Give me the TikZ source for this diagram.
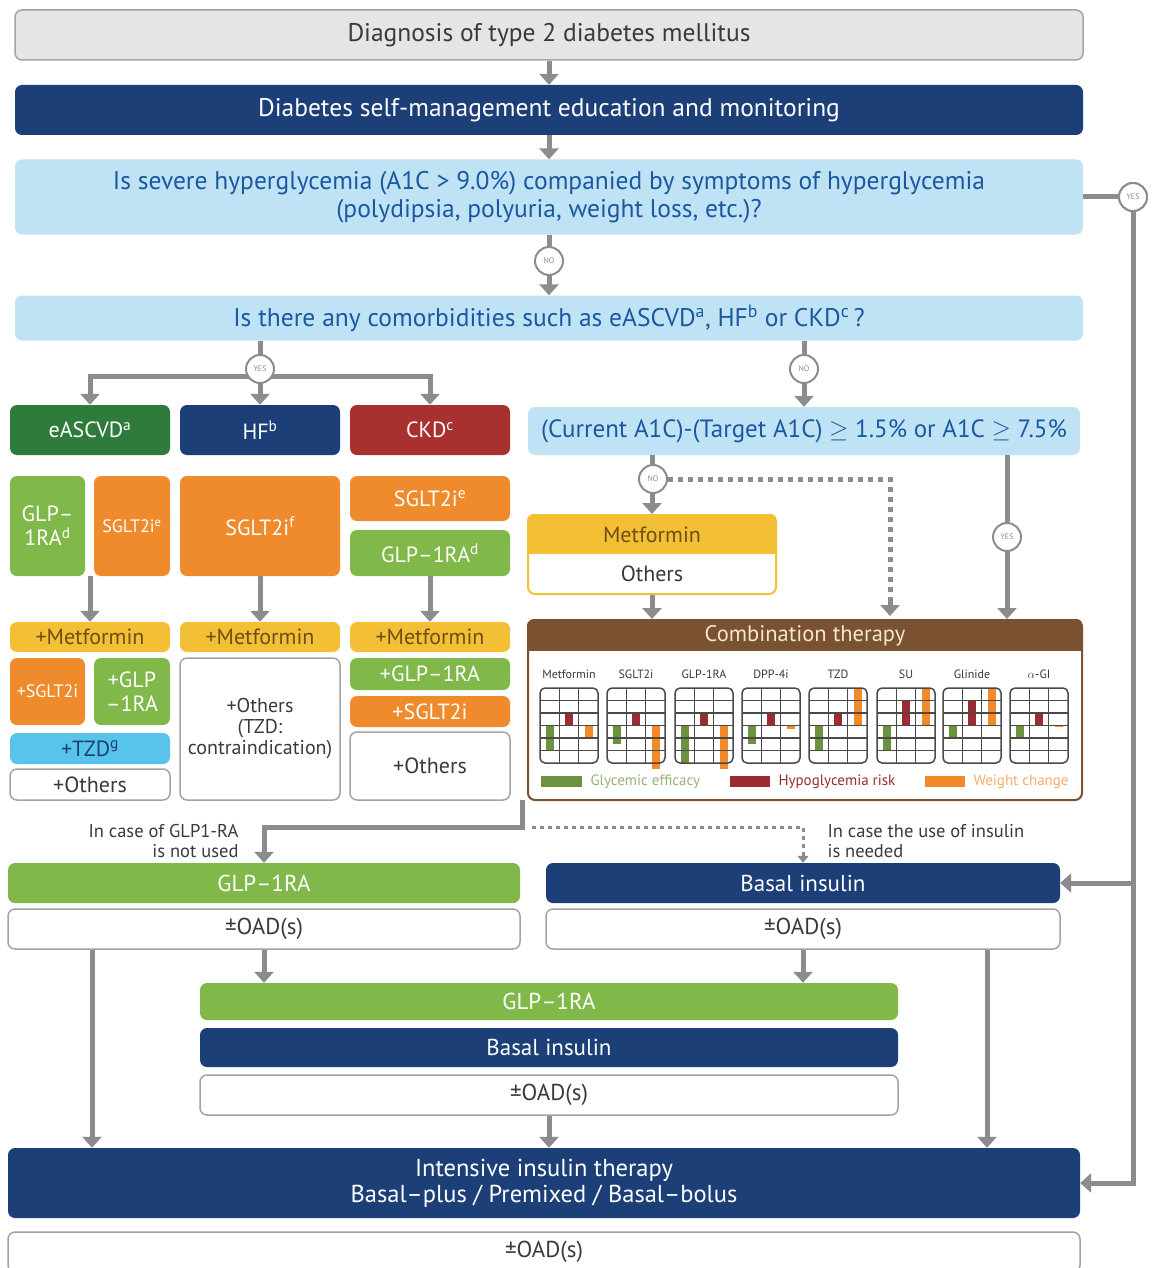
\documentclass[tikz,border=0pt]{standalone}
\usepackage{fontspec}
\setmainfont{PT Sans}
\usetikzlibrary{arrows.meta, positioning}
\definecolor{navy}{HTML}{1C3F77}
\definecolor{skyq}{HTML}{BFE3F5}
\definecolor{qtext}{HTML}{1B58A0}
\definecolor{lgray}{HTML}{E5E5E5}
\definecolor{mgray}{HTML}{A3A3A3}
\definecolor{arrgray}{HTML}{8C8C8C}
\definecolor{dgreen}{HTML}{2E7B3C}
\definecolor{dred}{HTML}{A8312F}
\definecolor{lgreen}{HTML}{80B84A}
\definecolor{orng}{HTML}{EF8B2C}
\definecolor{yel}{HTML}{F3C035}
\definecolor{yeltext}{HTML}{6E4E18}
\definecolor{tzdblue}{HTML}{58C4EA}
\definecolor{cbrown}{HTML}{7A5232}
\definecolor{ccream}{HTML}{F7E6CC}
\definecolor{bgreen}{HTML}{6C9240}
\definecolor{bred}{HTML}{9A2B30}
\definecolor{borng}{HTML}{F28A2A}
\definecolor{gridc}{HTML}{4A4A4A}
\definecolor{txtgray}{HTML}{3A3A3A}

\begin{document}
\begin{tikzpicture}[x=1pt, y=-1pt,
    box/.style={rounded corners=7pt, inner sep=0pt, align=center},
    wide/.style={box, minimum width=1068pt},
    colbox/.style={box, minimum width=160pt},
    whitebox/.style={box, fill=white, draw=mgray, line width=1.5pt, text=txtgray},
    fbig/.style={font=\fontsize{25.5}{28}\selectfont},
    fmid/.style={font=\fontsize{22}{24}\selectfont},
    flow/.style={font=\fontsize{23}{26}\selectfont},
    fsmall/.style={font=\fontsize{20}{21}\selectfont},
    ftiny/.style={font=\fontsize{18}{20}\selectfont},
    fnote/.style={font=\fontsize{18.5}{20}\selectfont},
    arr/.style={draw=arrgray, line width=5pt, -{Triangle[width=19pt,length=11pt]}},
    ln/.style={draw=arrgray, line width=5pt},
    dotln/.style={draw=arrgray, line width=5pt, dash pattern=on 5pt off 5pt},
    dotthin/.style={draw=arrgray, line width=3pt, dash pattern=on 4pt off 4pt, -{Triangle[width=11pt,length=7pt]}},
    yn/.style={circle, draw=arrgray, line width=2pt, fill=white, minimum size=28pt, inner sep=0pt, text=arrgray, font=\fontsize{8}{9}\selectfont}]

\fill[white] (0,0) rectangle (1154,1268);
\useasboundingbox (0,0) rectangle (1154,1268);

% top questions
\node[wide, fill=lgray, draw=mgray, line width=1.5pt, minimum height=50pt, text=txtgray, fbig] (diag) at (549,35) {Diagnosis of type 2 diabetes mellitus};
\node[wide, fill=navy, minimum height=50pt, text=white, fbig] (dsme) at (549,110) {Diabetes self-management education and monitoring};
\node[wide, fill=skyq, minimum height=75pt, text=qtext, fbig] (qsev) at (549,197) {Is severe hyperglycemia (A1C > 9.0\%) companied by symptoms of hyperglycemia\\(polydipsia, polyuria, weight loss, etc.)?};
\node[wide, fill=skyq, minimum height=45pt, text=qtext, fbig] (qcom) at (549,318) {Is there any comorbidities such as eASCVD\textsuperscript{a}, HF\textsuperscript{b} or CKD\textsuperscript{c}\,?};

% comorbidity columns
\node[colbox, fill=dgreen, minimum height=50pt, text=white, fmid] (ascvd) at (90,430) {eASCVD\textsuperscript{a}};
\node[colbox, fill=navy, minimum height=50pt, text=white, fmid] (hf) at (260,430) {HF\textsuperscript{b}};
\node[colbox, fill=dred, minimum height=50pt, text=white, fmid] (ckd) at (430,430) {CKD\textsuperscript{c}};

\node[box, fill=lgreen, minimum width=75pt, minimum height=100pt, text=white, fmid] (glpa) at (47.5,526) {GLP--\\1RA\textsuperscript{d}};
\node[box, fill=orng, minimum width=76pt, minimum height=100pt, text=white, ftiny] (sglta) at (132,526) {SGLT2i\textsuperscript{e}};
\node[colbox, fill=orng, minimum height=100pt, text=white, fmid] (sglthf) at (260,526) {SGLT2i\textsuperscript{f}};
\node[colbox, fill=orng, minimum height=45pt, text=white, fmid] (sgltc) at (430,498.5) {SGLT2i\textsuperscript{e}};
\node[colbox, fill=lgreen, minimum height=46pt, text=white, fmid] (glpc) at (430,553) {GLP--1RA\textsuperscript{d}};

\foreach \c/\x in {A/90, H/260, C/430}
  \node[colbox, fill=yel, minimum height=30pt, text=yeltext, fmid] (met\c) at (\x,637) {+Metformin};

\node[box, fill=orng, minimum width=75pt, minimum height=67pt, text=white, ftiny] (psglt) at (47.5,691.5) {+SGLT2i};
\node[box, fill=lgreen, minimum width=76pt, minimum height=67pt, text=white, fmid] (pglp) at (132,691.5) {+GLP\\--1RA};
\node[colbox, fill=tzdblue, minimum height=31pt, text=navy, fmid] (ptzd) at (90,748.5) {+TZD\textsuperscript{g}};
\node[colbox, whitebox, minimum height=31pt, fmid] (pothA) at (90,784.5) {+Others};
\node[colbox, whitebox, minimum height=142pt, fsmall] (pothH) at (260,729) {+Others\\(TZD:\\contraindication)};
\node[colbox, fill=lgreen, minimum height=32pt, text=white, fmid] (pglpC) at (430,674) {+GLP--1RA};
\node[colbox, fill=orng, minimum height=31pt, text=white, fmid] (psgltC) at (430,711.5) {+SGLT2i};
\node[colbox, whitebox, minimum height=68pt, fmid] (pothC) at (430,766) {+Others};

% A1C branch
\node[box, fill=skyq, minimum width=552pt, minimum height=48pt, text=qtext, font=\fontsize{25}{28}\selectfont] (a1c) at (804,431) {(Current A1C)-(Target A1C) $\geq$ 1.5\% or A1C $\geq$ 7.5\%};

\node[box, fill=white, draw=yel, line width=2pt, minimum width=248pt, minimum height=79pt] (mobox) at (652,554.5) {};
\begin{scope}
  \clip[rounded corners=7pt] (mobox.north west) rectangle (mobox.south east);
  \fill[yel] (mobox.north west) rectangle ([yshift=-40pt]mobox.north east);
\end{scope}
\node[text=yeltext, fmid] (metR) at (652,535) {Metformin};
\node[text=txtgray, fmid] (othR) at (652,574) {Others};

% combination therapy
\node[box, fill=white, draw=cbrown, line width=2pt, minimum width=554pt, minimum height=180pt] (combo) at (805,710) {};
\begin{scope}
  \clip[rounded corners=7pt] (combo.north west) rectangle (combo.south east);
  \fill[cbrown] (combo.north west) rectangle ([yshift=-32pt]combo.north east);
\end{scope}
\node[text=ccream, font=\fontsize{22.5}{24}\selectfont] (combot) at (805,636) {Combination therapy};

\foreach \lab/\cx/\g/\r/\o [count=\i] in {Metformin/540/-2/1/-1, SGLT2i/607/-1.5/1/-3.5, GLP-1RA/675/-3/1/-3.5, DPP-4i/742/-1.5/1/-0.3, TZD/809/-2/1/3, SU/877/-2/2/3, Glinide/943/-1/2/3, $\alpha$-GI/1010/-1/1/-0.15} {
  \fill[bgreen] (\cx+5.5,725.5) rectangle (\cx+13.5,{725.5-(\g)*12.5});
  \fill[bred] (\cx+25,725.5) rectangle (\cx+33,{725.5-(\r)*12.5});
  \fill[borng] (\cx+44.5,725.5) rectangle (\cx+52.5,{725.5-(\o)*12.5});
  \foreach \k in {1,2}
    \draw[gridc, line width=1.1pt] (\cx+\k*19.33,688) -- (\cx+\k*19.33,763);
  \foreach \k in {1,...,5}
    \draw[gridc, line width=1.1pt] (\cx,688+\k*12.5) -- (\cx+58,688+\k*12.5);
  \draw[gridc, line width=1.5pt, rounded corners=5pt] (\cx,688) rectangle (\cx+58,763);
  \node[text=txtgray, font=\fontsize{12}{14}\selectfont] (clab\i) at (\cx+29,674) {\lab};
}
\fill[bgreen] (541,776) rectangle (582,787);
\node[anchor=west, text=bgreen!70, font=\fontsize{15}{17}\selectfont] (leg1) at (587,781.5) {Glycemic efficacy};
\fill[bred] (730,776) rectangle (770,787);
\node[anchor=west, text=bred, font=\fontsize{15}{17}\selectfont] (leg2) at (775,781.5) {Hypoglycemia risk};
\fill[borng] (925,776) rectangle (965,787);
\node[anchor=west, text=borng!70, font=\fontsize{15}{17}\selectfont] (leg3) at (970,781.5) {Weight change};

% second line therapy
\node[box, fill=lgreen, minimum width=512pt, minimum height=40pt, text=white, flow] (glpR) at (264,883) {GLP--1RA};
\node[whitebox, minimum width=512pt, minimum height=40pt, flow] (oadL) at (264,929) {±OAD(s)};
\node[box, fill=navy, minimum width=514pt, minimum height=40pt, text=white, flow] (basal) at (803,883) {Basal insulin};
\node[whitebox, minimum width=514pt, minimum height=40pt, flow] (oadR) at (803,929) {±OAD(s)};
\node[anchor=east, align=right, text=txtgray, fnote] (note1) at (242,841) {In case of GLP1-RA\\is not used};
\node[anchor=west, align=left, text=txtgray, fnote] (note2) at (824,841) {In case the use of insulin\\is needed};

\node[box, fill=lgreen, minimum width=698pt, minimum height=37pt, text=white, flow] (glp2) at (549,1001.5) {GLP--1RA};
\node[box, fill=navy, minimum width=698pt, minimum height=39pt, text=white, flow] (basal2) at (549,1047.5) {Basal insulin};
\node[whitebox, minimum width=698pt, minimum height=40pt, flow] (oad2) at (549,1095) {±OAD(s)};

\node[box, fill=navy, minimum width=1072pt, minimum height=70pt, text=white, font=\fontsize{24.5}{26}\selectfont] (inten) at (544,1183) {Intensive insulin therapy\\Basal--plus / Premixed / Basal--bolus};
\node[whitebox, minimum width=1072pt, minimum height=40pt, flow] (oad3) at (544,1252) {±OAD(s)};

% connectors
\draw[arr] (diag.south) -- (dsme.north);
\draw[arr] (dsme.south) -- (qsev.north);
\draw[arr] (qsev.south) -- (qcom.north);
\coordinate (cjoin) at (260,376);
\draw[ln] (qcom.south -| hf.north) -- (cjoin);
\draw[arr] (cjoin) -- (hf.north);
\draw[arr] (cjoin) -| (ascvd.north);
\draw[arr] (cjoin) -| (ckd.north);
\draw[arr] (qcom.south -| a1c.north) -- (a1c.north);
\draw[arr] (metA.north |- glpa.south) -- (metA.north);
\draw[arr] (sglthf.south) -- (metH.north);
\draw[arr] (glpc.south) -- (metC.north);

\draw[arr] (a1c.south -| mobox.north) -- (mobox.north);
\coordinate (dotend) at (890,616);
\draw[dotln] (668,479) -| (890,600);
\draw[arr] (890,600) -- (dotend);
\draw[arr] (a1c.south -| 1007,0) -- (combo.north -| 1007,0);
\draw[arr] (mobox.south) -- (combo.north -| mobox.south);

\coordinate (cfrom) at (522,800);
\coordinate (cbend) at (522,827);
\draw[arr] (cfrom) -- (cbend) -| (glpR.north);
\coordinate (dfrom) at (532,827);
\draw[dotthin] (dfrom) -| (basal.north);

\draw[arr] (oadL.south) -- (glp2.north -| oadL.south);
\draw[arr] (oadR.south) -- (glp2.north -| oadR.south);
\draw[arr] (oadL.south -| 92,0) -- (inten.north -| 92,0);
\draw[arr] (oadR.south -| 987,0) -- (inten.north -| 987,0);
\draw[arr] (oad2.south) -- (inten.north -| oad2.south);

\node[yn] (yes1) at (1133,197) {YES};
\draw[ln] (qsev.east) -- (yes1);
\draw[arr] (yes1) |- (inten.east);
\draw[arr] (yes1 |- basal.east) -- (basal.east);

% decisions
\node[yn] (no1) at (549,261) {NO};
\node[yn] (yes2) at (260,369) {YES};
\node[yn] (no2) at (804,369) {NO};
\node[yn] (no3) at (653,479) {NO};
\node[yn] (yes3) at (1007,537) {YES};
\node[yn] (yes1b) at (1133,197) {YES};
\end{tikzpicture}
\end{document}
